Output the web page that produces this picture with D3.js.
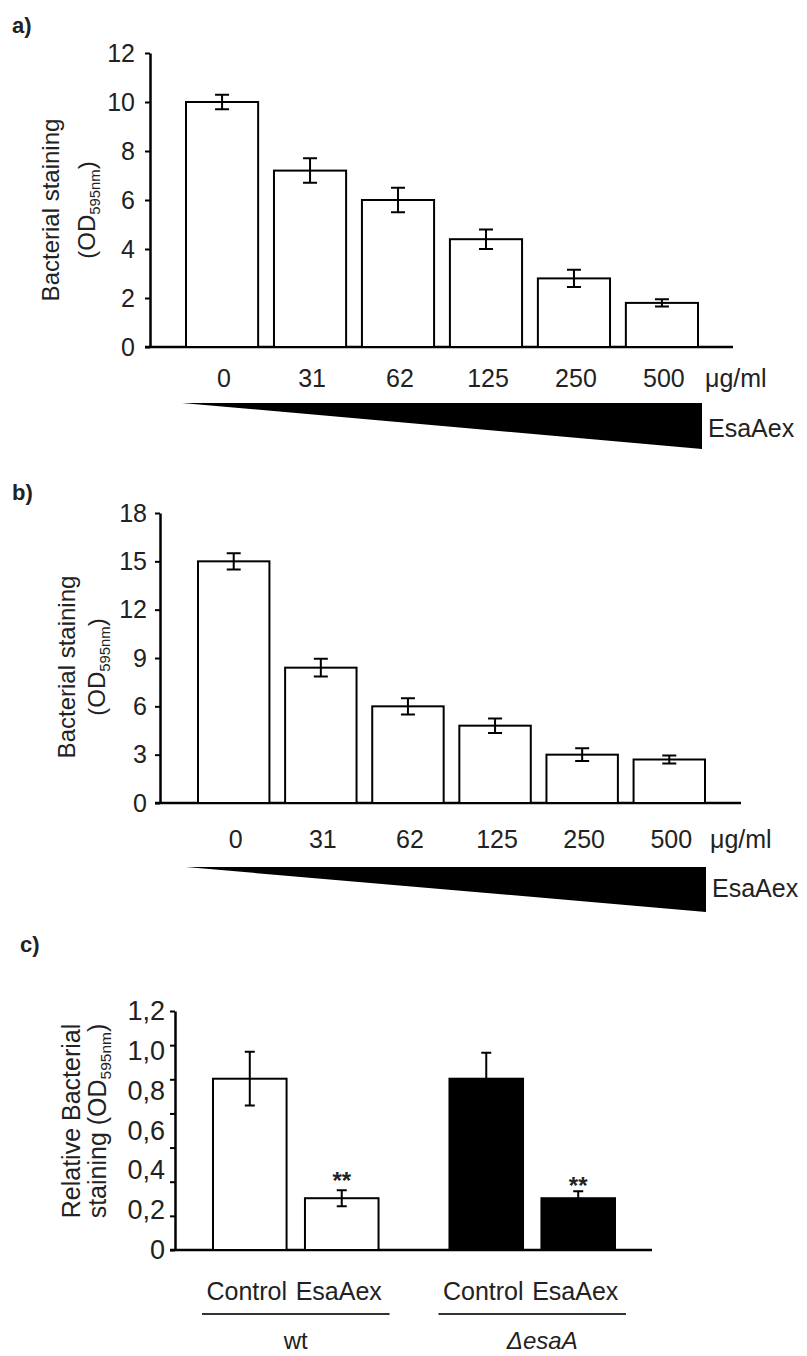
<!DOCTYPE html>
<html>
<head>
<meta charset="utf-8">
<script src="https://cdn.jsdelivr.net/npm/d3@7"></script>
<style>
  body { margin: 0; background: #fff; }
  svg { display: block; }
  text { font-family: "Liberation Sans", Arial, sans-serif; fill: #222; }
</style>
</head>
<body>
<svg id="fig" width="807" height="1356"></svg>
<script>
// doses (μg/ml) shared by panels a and b
const doses = ['0', '31', '62', '125', '250', '500'];

const aValues = [10, 7.2, 6.0, 4.4, 2.8, 1.8];
const aErrors = [0.3, 0.5, 0.5, 0.4, 0.35, 0.15];
const aTicks = [0, 2, 4, 6, 8, 10, 12];

const bValues = [15, 8.4, 6.0, 4.8, 3.0, 2.7];
const bErrors = [0.5, 0.55, 0.5, 0.45, 0.4, 0.25];
const bTicks = [0, 3, 6, 9, 12, 15, 18];

const cGroups = ['wt', 'ΔesaA'];
const cConditions = ['Control', 'EsaAex'];
const cValues = [[0.86, 0.26], [0.86, 0.26]];
const cErrors = [[0.135, 0.04], [0.13, 0.035]];
const cStars = [['', '**'], ['', '**']];
const cTicks = [0, 0.2, 0.4, 0.6, 0.8, 1.0, 1.2];
const cFill = ['#fff', '#000'];

const svg = d3.select('#fig');
svg.append('rect').attr('width', 807).attr('height', 1356).attr('fill', '#fff');

const styleAxis = (g, size) => {
    g.attr('font-family', null).attr('font-size', null);
    g.select('.domain').attr('stroke', '#000').attr('stroke-width', 2.5);
    g.selectAll('.tick line').attr('stroke', '#000').attr('stroke-width', 2);
    g.selectAll('.tick text').attr('font-size', size).attr('fill', '#222');
};

const yTitle = (x1, x2, cy, line1, pre, size) => {
    svg.append('text').attr('transform', `translate(${x1},${cy}) rotate(-90)`)
        .attr('text-anchor', 'middle').attr('font-size', size).text(line1);
    const t = svg.append('text').attr('transform', `translate(${x2},${cy}) rotate(-90)`)
        .attr('text-anchor', 'middle').attr('font-size', size);
    t.append('tspan').text(pre + '(OD');
    t.append('tspan').attr('font-size', size * 0.62).attr('dy', 5).text('595nm');
    t.append('tspan').attr('dy', -5).text(')');
};

const errBar = (g, cx, y, v, e, cap) => {
    const p = d3.path();
    p.moveTo(cx, y(v + e)); p.lineTo(cx, y(v - e));
    p.moveTo(cx - cap, y(v + e)); p.lineTo(cx + cap, y(v + e));
    p.moveTo(cx - cap, y(v - e)); p.lineTo(cx + cap, y(v - e));
    g.append('path').attr('d', p.toString()).attr('stroke', '#000')
        .attr('stroke-width', 2).attr('fill', 'none');
};

function dosePanel(o) {
    const x = d3.scaleBand().domain(doses).range(o.xr).paddingInner(0.18).paddingOuter(0);
    const y = d3.scaleLinear().domain([0, d3.max(o.ticks)]).range(o.yr);
    const g = svg.append('g');

    g.append('line').attr('x1', o.axisX - 5).attr('x2', o.xEnd)
        .attr('y1', y(0)).attr('y2', y(0)).attr('stroke', '#000').attr('stroke-width', 2.5);
    g.append('g').attr('transform', `translate(${o.axisX},0)`)
        .call(d3.axisLeft(y).tickValues(o.ticks).tickSize(5).tickSizeOuter(0).tickPadding(o.pad))
        .call(a => styleAxis(a, 25));

    doses.forEach((d, i) => {
        g.append('rect').attr('x', x(d)).attr('y', y(o.values[i]))
            .attr('width', x.bandwidth()).attr('height', y(0) - y(o.values[i]))
            .attr('fill', '#fff').attr('stroke', '#000').attr('stroke-width', 2);
        errBar(g, x(d) + x.bandwidth() / 2, y, o.values[i], o.errors[i], 7);
        g.append('text').attr('x', x(d) + x.bandwidth() / 2 + 2).attr('y', o.labelY)
            .attr('text-anchor', 'middle').attr('font-size', 25).text(d);
    });
    g.append('text').attr('x', o.unitX).attr('y', o.labelY).attr('font-size', 25).text('μg/ml');

    // dose wedge
    const [tx, ty, rx, ry0, ry1] = o.wedge;
    g.append('path').attr('d', `M${tx},${ty}L${rx},${ry0}L${rx},${ry1}Z`).attr('fill', '#000');
    g.append('text').attr('x', rx + 6).attr('y', o.wedgeTextY).attr('font-size', 25).text('EsaAex');

    svg.append('text').attr('x', 12).attr('y', o.tagY).attr('font-size', 22)
        .attr('font-weight', 'bold').attr('fill', '#111').text(o.tag);
}

dosePanel({
    tag: 'a)', tagY: 33, values: aValues, errors: aErrors, ticks: aTicks,
    xr: [186, 698], yr: [347, 53], axisX: 150, xEnd: 733, pad: 10,
    labelY: 387, unitX: 705, wedge: [182, 403, 702, 403, 449], wedgeTextY: 437
});
yTitle(59, 95, 210, 'Bacterial staining', '', 24);

dosePanel({
    tag: 'b)', tagY: 500, values: bValues, errors: bErrors, ticks: bTicks,
    xr: [198, 705], yr: [803, 513], axisX: 160, xEnd: 741, pad: 8,
    labelY: 848, unitX: 710, wedge: [186, 867, 706, 867, 912], wedgeTextY: 897
});
yTitle(75, 105, 667, 'Bacterial staining', '', 24);

// panel c
{
    const gx = d3.scaleBand().domain(cGroups).range([213, 615]).paddingInner(0.3);
    const ix = d3.scaleBand().domain(cConditions).range([0, gx.bandwidth()]).paddingInner(0.2);
    const y = d3.scaleLinear().domain([0, 1.2]).range([1250, 1011]);
    const g = svg.append('g');

    g.append('line').attr('x1', 170).attr('x2', 652).attr('y1', y(0)).attr('y2', y(0))
        .attr('stroke', '#000').attr('stroke-width', 2.5);
    // tick marks (7 intervals in the original) and labels drawn separately
    g.append('g').attr('transform', 'translate(175,0)')
        .call(d3.axisLeft(y).tickValues(d3.range(8).map(i => i * 1.2 / 7)).tickSize(5).tickSizeOuter(0).tickFormat(''))
        .call(a => styleAxis(a, 26));
    g.append('g').attr('transform', 'translate(175,0)')
        .call(d3.axisLeft(y).tickValues(cTicks).tickSize(0).tickPadding(10)
            .tickFormat(d => d === 0 ? '0' : d3.format('.1f')(d).replace('.', ',')))
        .call(a => styleAxis(a, 27))
        .call(a => a.select('.domain').remove());

    cGroups.forEach((grp, gi) => {
        cConditions.forEach((cond, ci) => {
            const x0 = gx(grp) + ix(cond), cx = x0 + ix.bandwidth() / 2;
            const v = cValues[gi][ci];
            g.append('rect').attr('x', x0).attr('y', y(v))
                .attr('width', ix.bandwidth()).attr('height', y(0) - y(v))
                .attr('fill', cFill[gi]).attr('stroke', '#000').attr('stroke-width', 2);
            errBar(g, cx, y, v, cErrors[gi][ci], 5);
            if (cStars[gi][ci]) {
                g.append('text').attr('x', cx).attr('y', y(v + cErrors[gi][ci]) - 1 + gi * 4)
                    .attr('text-anchor', 'middle').attr('font-size', 24).attr('font-weight', 'bold')
                    .attr('fill', '#333').text(cStars[gi][ci]);
            }
            g.append('text').attr('x', cx - 3).attr('y', 1300).attr('text-anchor', 'middle')
                .attr('font-size', 25).text(cond);
        });
        const gs = gx(grp) - 11, ge = gx(grp) + gx.bandwidth() + 11;
        g.append('line').attr('x1', gs).attr('x2', ge).attr('y1', 1314).attr('y2', 1314)
            .attr('stroke', '#333').attr('stroke-width', 2);
        const lab = g.append('text').attr('x', (gs + ge) / 2 + (gi ? 10 : 0)).attr('y', 1349)
            .attr('text-anchor', 'middle').attr('font-size', 24);
        if (gi === 0) lab.text(grp);
        else lab.attr('font-style', 'italic').text(grp);
    });

    svg.append('text').attr('x', 20).attr('y', 952).attr('font-size', 22)
        .attr('font-weight', 'bold').attr('fill', '#111').text('c)');
    yTitle(80, 106, 1121, 'Relative Bacterial', 'staining ', 25);
}
</script>
</body>
</html>
